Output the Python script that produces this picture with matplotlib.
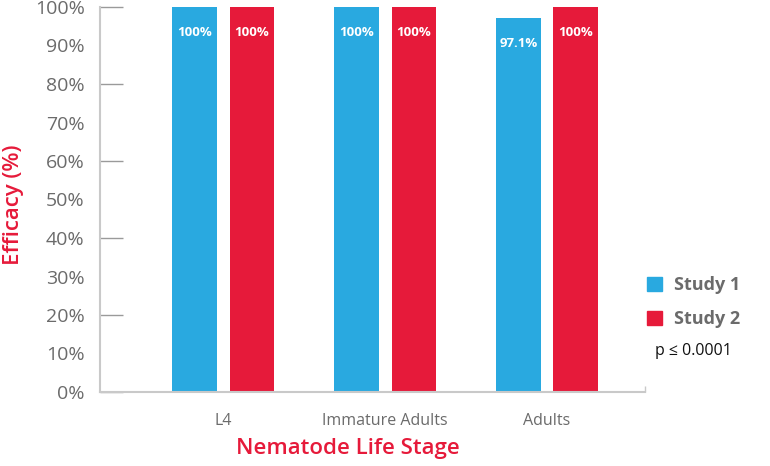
import matplotlib
matplotlib.use('Agg')
import matplotlib.pyplot as plt
from matplotlib.patches import Patch
import numpy as np

stages = ['L4', 'Immature Adults', 'Adults']
study1 = [100, 100, 97.1]
study2 = [100, 100, 100]
series_names = ['Study 1', 'Study 2']
y_labels = ['0%', '10%', '20%', '30%', '40%', '50%', '60%', '70%', '80%', '90%', '100%']

blue = '#29A9E0'
red = '#E61A3A'
grey = '#6b6b6b'
axis_grey = '#c9c9c9'

plt.rcParams['font.family'] = ['Open Sans', 'DejaVu Sans']

fig = plt.figure(figsize=(7.7, 4.66), dpi=100)
ax = fig.add_axes([100 / 770, 1 - 392 / 466, 545 / 770, 385 / 466])

x = np.arange(len(stages))
w = 0.275
off = 0.1775
b1 = ax.bar(x - off, study1, w, color=blue, label=series_names[0])
b2 = ax.bar(x + off, study2, w, color=red, label=series_names[1])

# Значения внутри столбцов
for bars, vals in ((b1, study1), (b2, study2)):
    for bar, v in zip(bars, vals):
        txt = '%g%%' % v
        ax.annotate(txt, (bar.get_x() + bar.get_width() / 2, v),
                    xytext=(0, -18.5), textcoords='offset points',
                    ha='center', va='center', color='white',
                    fontsize=9.5, fontweight='bold')

ax.set_xlim(-0.76, 2.605)
ax.set_ylim(0, 100)

ax.set_yticks(np.arange(0, 101, 20))
ax.set_yticklabels(y_labels[::2])
ax.set_yticks(np.arange(10, 100, 20), minor=True)
ax.set_yticklabels(y_labels[1::2], minor=True)
ax.tick_params(axis='y', which='major', direction='in', length=16.5,
               width=1, color='#9a9a9a', pad=11, labelsize=14,
               labelcolor=grey)
ax.tick_params(axis='y', which='minor', length=0, pad=11,
               labelsize=14, labelcolor=grey)

ax.set_xticks(x)
ax.set_xticklabels(stages)
ax.tick_params(axis='x', which='major', length=0, pad=15,
               labelsize=11.5, labelcolor=grey)
ax.set_xticks([2.605], minor=True)
ax.tick_params(axis='x', which='minor', direction='in', length=4,
               width=1, color=axis_grey)

for s in ('top', 'right'):
    ax.spines[s].set_visible(False)
for s in ('left', 'bottom'):
    ax.spines[s].set_color(axis_grey)
    ax.spines[s].set_linewidth(1.5)

ax.set_ylabel('Efficacy (%)', color=red, fontsize=16, fontweight='semibold')
ax.yaxis.set_label_coords(-76 / 545, 1 - 198 / 385)
ax.set_xlabel('Nematode Life Stage', color=red, fontsize=16,
              fontweight='semibold')
ax.xaxis.set_label_coords(247.5 / 545, -46 / 385)

handles = [Patch(color=blue), Patch(color=red)]
leg = fig.legend(handles, series_names, loc='center left',
                 bbox_to_anchor=(631 / 770, 1 - 302 / 466), frameon=False,
                 handlelength=0.8, handleheight=0.8, handletextpad=0.7,
                 labelspacing=0.9,
                 prop={'size': 13, 'weight': 'bold'})
for t in leg.get_texts():
    t.set_color(grey)

fig.text(655 / 770, 1 - 351 / 466, 'p \u2264 0.0001', fontsize=11.5,
         color='#111111', va='center', ha='left')

fig.savefig('out.png', dpi=100)
